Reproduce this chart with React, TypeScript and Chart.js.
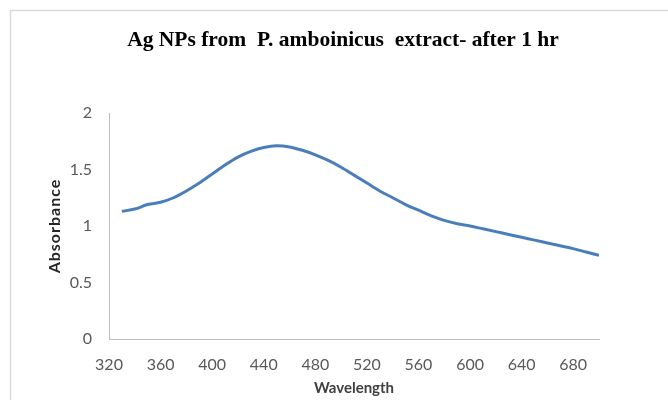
import React, { useEffect, useRef } from "react";
import { Chart, registerables } from "chart.js";

Chart.register(...registerables);

const TITLE = "Ag NPs from  P. amboinicus  extract- after 1 hr";
const X_TITLE = "Wavelength";
const Y_TITLE = "Absorbance";

const wavelengths = [
  330, 340, 350, 360, 370, 380, 390, 400, 410, 420, 430, 440, 450, 460, 470,
  480, 490, 500, 510, 520, 530, 540, 550, 560, 570, 580, 590, 600, 610, 620,
  630, 640, 650, 660, 670, 680, 690, 700,
];
const absorbance = [
  1.13, 1.15, 1.19, 1.21, 1.25, 1.31, 1.38, 1.46, 1.54, 1.61, 1.66, 1.695, 1.71,
  1.7, 1.67, 1.63, 1.58, 1.52, 1.45, 1.38, 1.31, 1.25, 1.19, 1.14, 1.09, 1.05,
  1.02, 1.0, 0.975, 0.95, 0.925, 0.9, 0.875, 0.85, 0.825, 0.8, 0.77, 0.74,
];

const X_MIN = 320;
const X_MAX = 700;
const X_STEP = 40;
const X_LAST_LABEL = 680;
const Y_MIN = 0;
const Y_MAX = 2;
const Y_STEP = 0.5;

const TICK_FONT = { family: "Lato, 'Open Sans', sans-serif", size: 16 };
const X_TITLE_FONT = { family: "Lato, 'Open Sans', sans-serif", size: 15, weight: "bold" as const };
const Y_TITLE_FONT = { family: "Lato, 'Open Sans', sans-serif", size: 16, weight: "bold" as const };

const framePlugin = {
  id: "frameAndTitle",
  afterLayout(chart: any) {
    const y = chart.scales.y;
    if (y && !y.__patched) {
      const orig = y.drawTitle;
      y.drawTitle = function (...args: any[]) {
        const ctx = this.ctx;
        ctx.save();
        ctx.letterSpacing = "1px";
        orig.apply(this, args);
        ctx.restore();
      };
      y.__patched = true;
    }
  },
  beforeDraw(chart: any) {
    const ctx = chart.ctx;
    ctx.save();
    ctx.fillStyle = "#ffffff";
    ctx.fillRect(0, 0, chart.width, chart.height);
    ctx.strokeStyle = "#d9d9d9";
    ctx.lineWidth = 1.5;
    ctx.strokeRect(10.5, 10.5, chart.width + 20, chart.height + 20);
    ctx.restore();
  },
  afterDraw(chart: any) {
    const ctx = chart.ctx;
    ctx.save();
    ctx.fillStyle = "#000000";
    ctx.font = "bold 21.5px 'Liberation Serif', 'Times New Roman', serif";
    ctx.textAlign = "center";
    ctx.textBaseline = "middle";
    ctx.fillText(TITLE, 343, 40);
    ctx.restore();
  },
};

export default function App() {
  const canvasRef = useRef<HTMLCanvasElement | null>(null);

  useEffect(() => {
    if (!canvasRef.current) return;
    const points = wavelengths.map((w, i) => ({ x: w, y: absorbance[i] }));
    const chart = new Chart(canvasRef.current, {
      type: "line",
      data: {
        datasets: [
          {
            label: "Absorbance",
            data: points,
            borderColor: "#4a7ebb",
            backgroundColor: "#4a7ebb",
            borderWidth: 3,
            pointRadius: 0,
            cubicInterpolationMode: "monotone",
            fill: false,
          },
        ],
      },
      options: {
        responsive: false,
        animation: false,
        layout: { padding: { left: 0, right: 69, top: 113, bottom: 0 } },
        plugins: {
          legend: { display: false },
          title: { display: false },
          tooltip: { enabled: false },
        },
        scales: {
          x: {
            type: "linear",
            min: X_MIN,
            max: X_MAX,
            grid: { display: false, drawTicks: false },
            border: { display: true, color: "#bfbfbf", width: 1 },
            ticks: {
              stepSize: X_STEP,
              padding: 16,
              color: "#595959",
              font: TICK_FONT,
              maxRotation: 0,
              autoSkip: false,
              callback: (v: any) => String(v),
            },
            afterBuildTicks: (scale: any) => {
              const t: { value: number }[] = [];
              for (let v = X_MIN; v <= X_LAST_LABEL; v += X_STEP) t.push({ value: v });
              scale.ticks = t;
            },
            afterFit: (scale: any) => {
              scale.height = 61;
            },
            title: {
              display: true,
              text: X_TITLE,
              color: "#404040",
              font: X_TITLE_FONT,
              padding: { top: 0, bottom: 3 },
            },
          },
          y: {
            type: "linear",
            min: Y_MIN,
            max: Y_MAX,
            grid: { display: false, drawTicks: false },
            border: { display: true, color: "#bfbfbf", width: 1 },
            ticks: {
              stepSize: Y_STEP,
              padding: 17,
              color: "#595959",
              font: TICK_FONT,
              callback: (v: any) => String(v),
            },
            afterFit: (scale: any) => {
              scale.width = 109;
            },
            title: {
              display: true,
              text: Y_TITLE,
              color: "#262626",
              font: Y_TITLE_FONT,
              padding: { top: 45, bottom: 0 },
            },
          },
        },
      },
      plugins: [framePlugin],
    });
    return () => chart.destroy();
  }, []);

  return (
    <div style={{ position: "absolute", left: 0, top: 0, width: 668, height: 400 }}>
      <canvas ref={canvasRef} width={668} height={400} style={{ display: "block" }} />
    </div>
  );
}
